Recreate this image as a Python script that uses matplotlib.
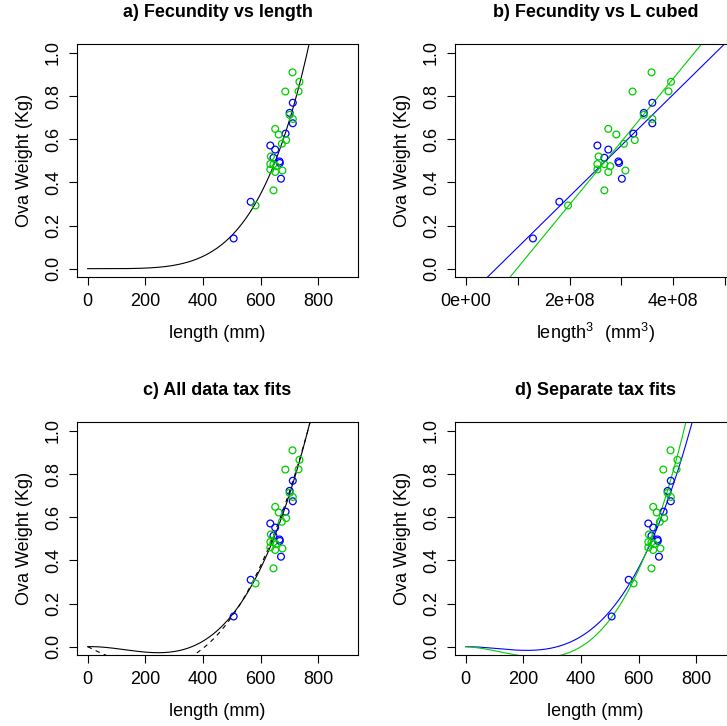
import matplotlib
matplotlib.use("Agg")
import matplotlib.pyplot as plt
import numpy as np

plt.rcParams["font.family"] = ["Liberation Sans", "DejaVu Sans"]
plt.rcParams["mathtext.fontset"] = "custom"
plt.rcParams["mathtext.rm"] = "Liberation Sans"

BLUE = "#0000FF"
GREEN = "#00CD00"

# taxon 1 (blue) and taxon 2 (green): length (mm) and ova weight (kg)
len_blue = [506, 565, 633, 650, 644, 665, 666, 670, 686, 700, 711, 711]
wt_blue = [0.140, 0.310, 0.571, 0.552, 0.514, 0.497, 0.490, 0.417, 0.626, 0.722, 0.769, 0.674]

len_green = [710, 734, 685, 731, 700, 711, 650, 662, 688, 673, 635, 633, 644, 653,
             633, 650, 675, 644, 582]
wt_green = [0.910, 0.866, 0.821, 0.822, 0.713, 0.694, 0.648, 0.622, 0.596, 0.579, 0.520,
            0.485, 0.484, 0.475, 0.460, 0.448, 0.455, 0.363, 0.293]

# fitted models (coefficients)
POW_A, POW_B = 1.509e-13, 4.45                     # a) W = A * L^B
LIN_BLUE = (-0.1385, 0.2367e-8)                    # b) W = c0 + c1 * L^3
LIN_GREEN = (-0.289, 0.2928e-8)
# cubic through origin in u = L/1000: W = a u + b u^2 + c u^3
CUB_ALL = (0.0348, -1.687, 4.404)
CUB_ALL_DASH = (-0.6785, 0.5925, 2.642)
CUB_BLUE = (0.0, -1.147, 3.611)
CUB_GREEN = (-0.0636, -1.723, 4.706)

y_ticks = [0.0, 0.2, 0.4, 0.6, 0.8, 1.0]
x_ticks = [0, 200, 400, 600, 800]
x3_ticks = [0, 1e8, 2e8, 3e8, 4e8, 5e8]
x3_labels = ["0e+00", "", "2e+08", "", "4e+08", ""]

FS = 13
W, H = 727, 726
fig = plt.figure(figsize=(W / 100, H / 100), dpi=100)


def make_ax(left, top):
    return fig.add_axes([left / W, (H - top - 233) / H, 280.4 / W, 233 / H])


def style(ax, title, xlabel, xlim=(0, 900)):
    r = xlim[1] - xlim[0]
    ax.set_xlim(xlim[0] - 0.04 * r, xlim[1] + 0.04 * r)
    ax.set_ylim(-0.04, 1.04)
    ax.set_yticks(y_ticks)
    ax.set_yticklabels(["%.1f" % v for v in y_ticks], rotation=90, va="center")
    ax.tick_params(direction="out", length=6, width=0.8, labelsize=FS, pad=5)
    for s in ax.spines.values():
        s.set_linewidth(0.8)
    ax.set_title(title, fontsize=FS, fontweight="bold", pad=20)
    ax.text(0.5, -0.24, xlabel, transform=ax.transAxes, ha="center", va="center", fontsize=FS)
    ax.text(-0.188, 0.5, "Ova Weight (Kg)", transform=ax.transAxes, ha="center",
            va="center", rotation=90, fontsize=FS)


def points(ax, xb, xg):
    ax.scatter(xb, wt_blue, s=24, facecolors="none", edgecolors=BLUE, linewidths=0.9, zorder=3)
    ax.scatter(xg, wt_green, s=24, facecolors="none", edgecolors=GREEN, linewidths=0.9, zorder=3)


def cubic(coef, L):
    u = L / 1000.0
    return coef[0] * u + coef[1] * u ** 2 + coef[2] * u ** 3


L = np.linspace(0, 900, 400)

# a) Fecundity vs length
ax = make_ax(77.3, 44.3)
points(ax, len_blue, len_green)
ax.plot(L, POW_A * L ** POW_B, color="black", lw=0.8)
ax.set_xticks(x_ticks)
style(ax, "a) Fecundity vs length", "length (mm)")

# b) Fecundity vs L cubed
ax = make_ax(455.3, 44.3)
points(ax, np.array(len_blue) ** 3.0, np.array(len_green) ** 3.0)
X3 = np.linspace(-1e8, 6e8, 50)
ax.plot(X3, LIN_BLUE[0] + LIN_BLUE[1] * X3, color=BLUE, lw=0.8)
ax.plot(X3, LIN_GREEN[0] + LIN_GREEN[1] * X3, color=GREEN, lw=0.8)
ax.set_xticks(x3_ticks)
ax.set_xticklabels(x3_labels)
style(ax, "b) Fecundity vs L cubed", r"$\mathregular{length^3\ \ (mm^3)}$", xlim=(0, 5e8))

# c) All data tax fits
ax = make_ax(77.3, 422.3)
points(ax, len_blue, len_green)
ax.plot(L, cubic(CUB_ALL, L), color="black", lw=0.8)
ax.plot(L, cubic(CUB_ALL_DASH, L), color="black", lw=0.8, ls=(0, (4, 4)))
ax.set_xticks(x_ticks)
style(ax, "c) All data tax fits", "length (mm)")

# d) Separate tax fits
ax = make_ax(455.3, 422.3)
points(ax, len_blue, len_green)
ax.plot(L, cubic(CUB_BLUE, L), color=BLUE, lw=0.8)
ax.plot(L, cubic(CUB_GREEN, L), color=GREEN, lw=0.8)
ax.set_xticks(x_ticks)
style(ax, "d) Separate tax fits", "length (mm)")

fig.savefig("out.png", dpi=100)
